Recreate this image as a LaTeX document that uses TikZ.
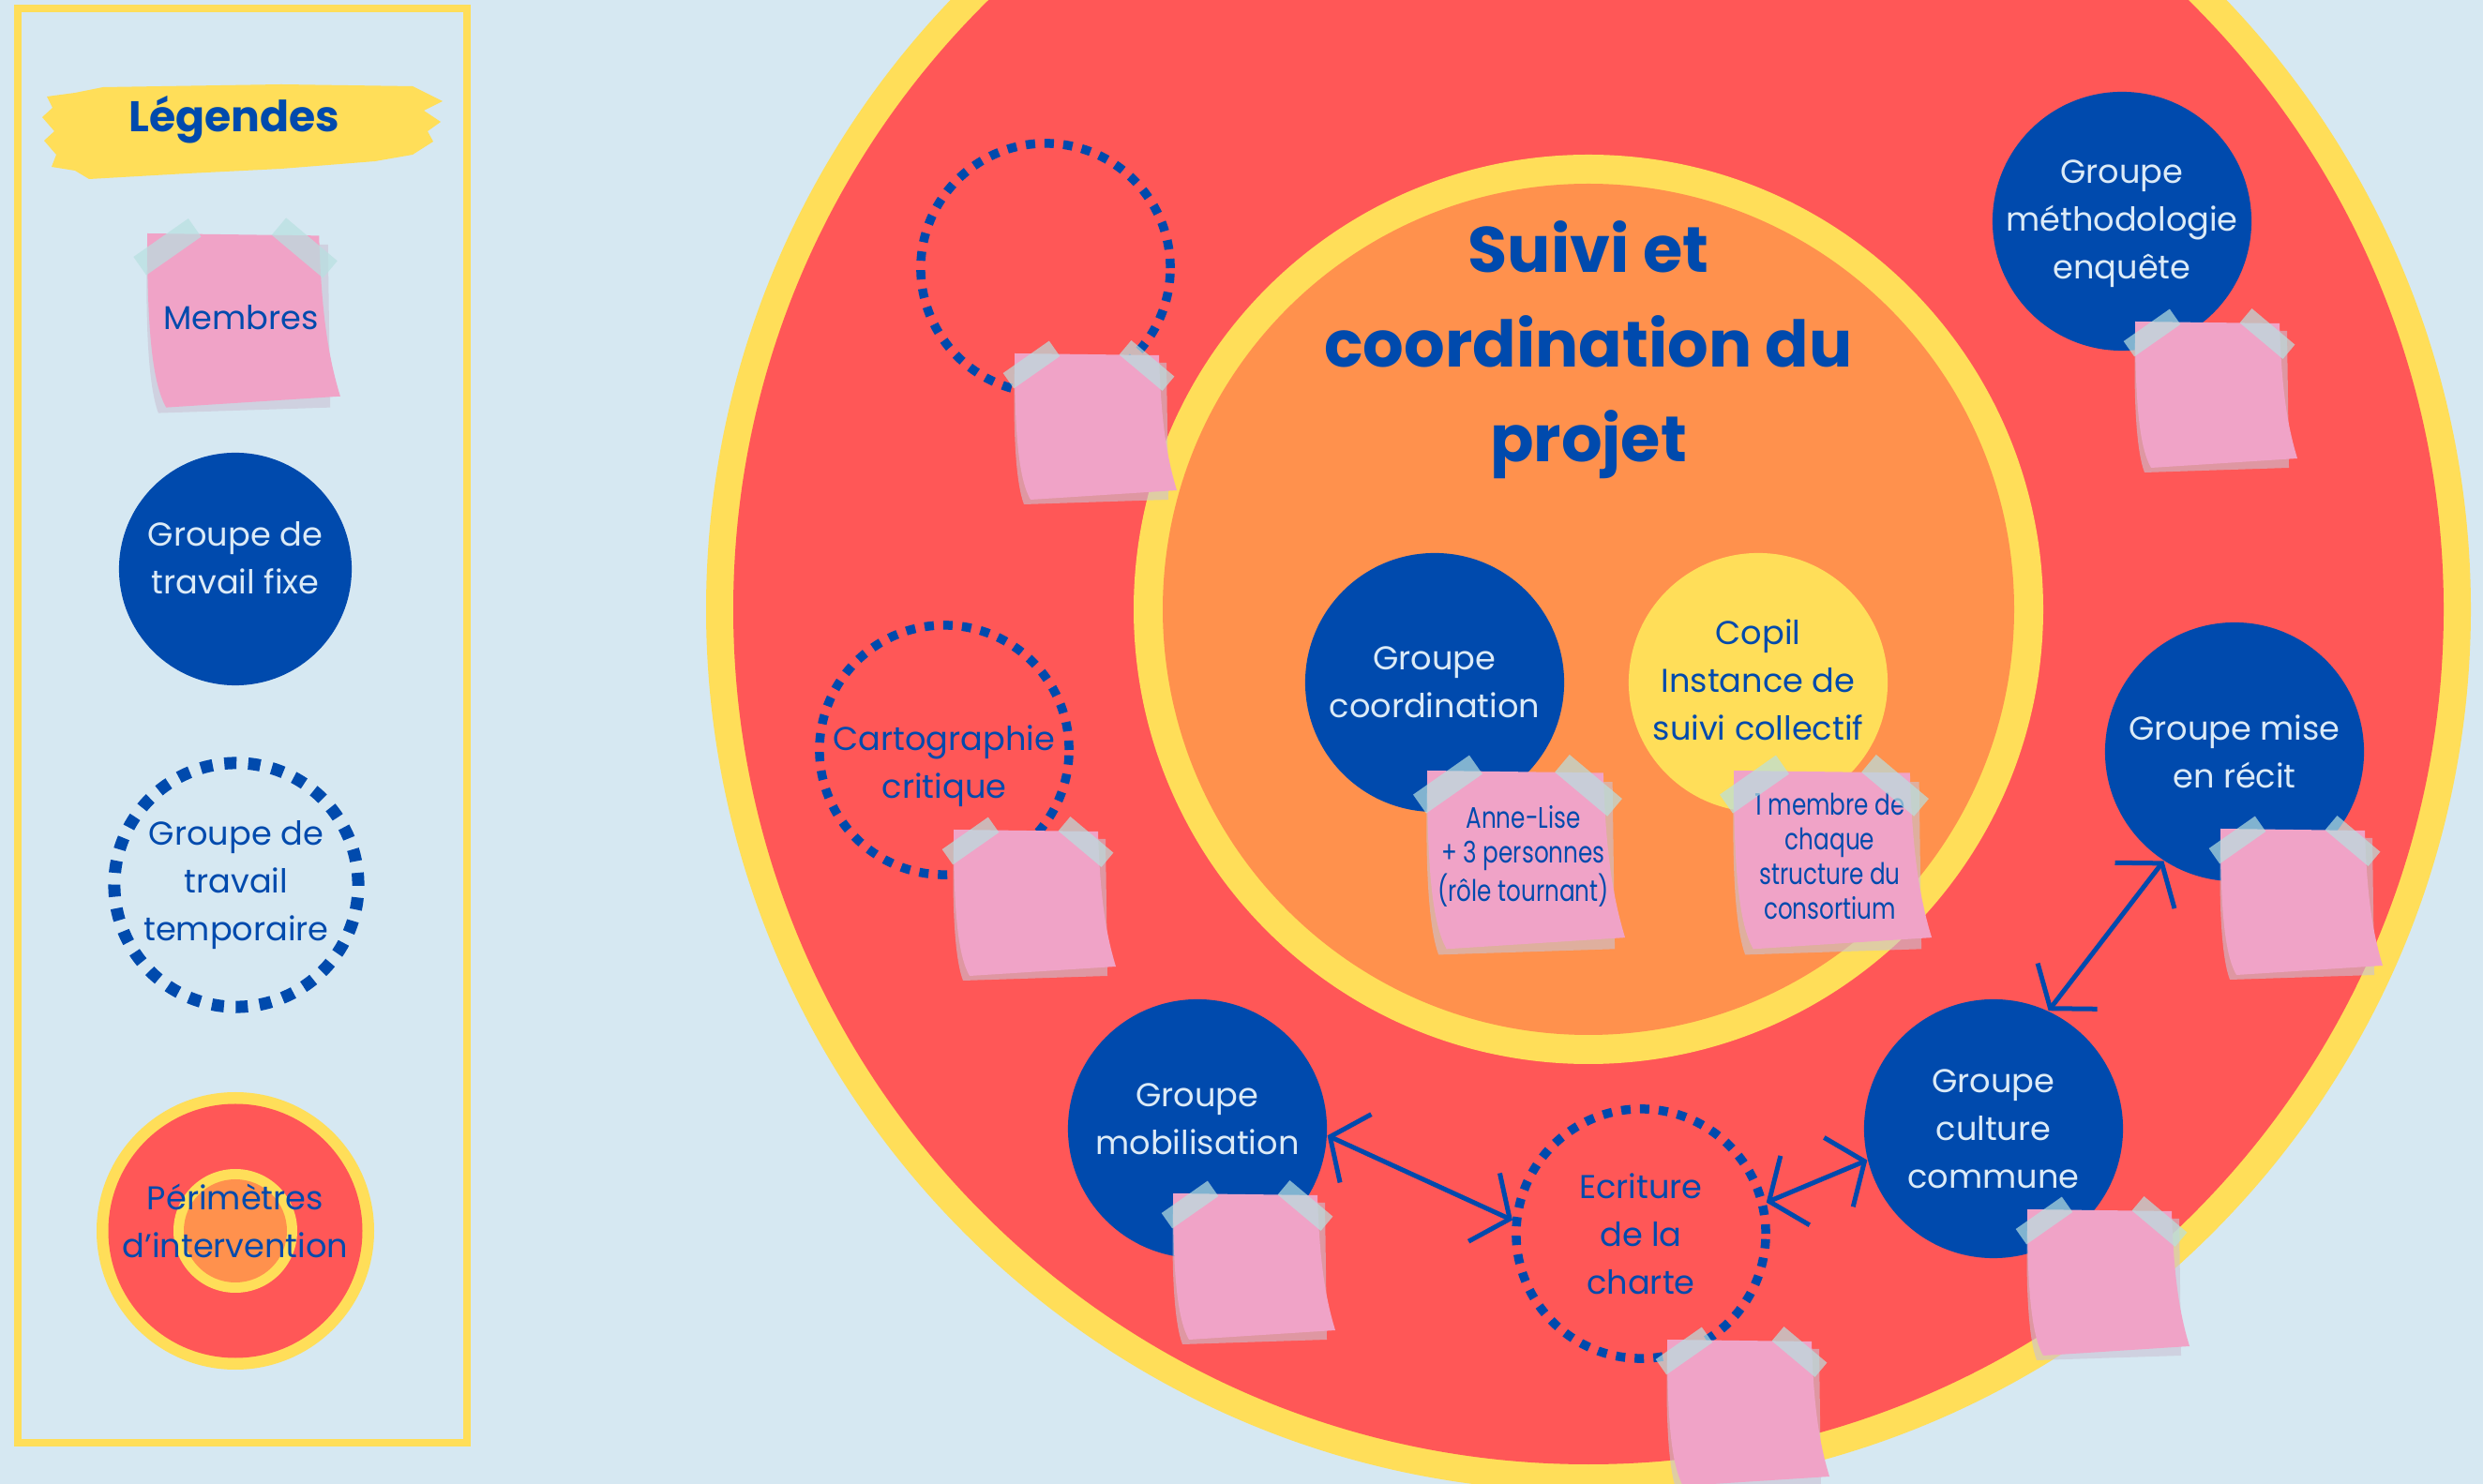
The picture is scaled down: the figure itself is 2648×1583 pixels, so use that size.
\documentclass[tikz,border=0pt]{standalone}
\usepackage{fontspec}
\setmainfont{Poppins}
\newfontfamily\narrowfont[FakeStretch=0.78]{Poppins}
\usepackage{tikz}
\usetikzlibrary{positioning, arrows.meta}

\definecolor{bgblue}{HTML}{D6E8F2}
\definecolor{sunyellow}{HTML}{FFDE59}
\definecolor{corail}{HTML}{FF5757}
\definecolor{mango}{HTML}{FF914D}
\definecolor{deepblue}{HTML}{004AAD}
\definecolor{paleblue}{HTML}{DCEBF7}
\definecolor{notepink}{HTML}{F0A3C7}
\definecolor{noteshade}{HTML}{CBC3D5}
\definecolor{tapeteal}{HTML}{B8E0E0}

% sticky note: [scale]{name}{top-left}{text}
\newcommand{\postit}[4][1]{%
  \begin{scope}[shift={#3}, scale=#1]
    \fill[noteshade, fill opacity=0.6] (0,10) .. controls (-2,90) and (2,140) .. (10,161)
      -- (164,156) -- (162,10) -- cycle;
    \fill[notepink] (0,0) -- (154,2) .. controls (156,70) and (162,110) .. (173,146)
      -- (17,156) .. controls (5,135) and (0,90) .. cycle;
    \node[notetext] (#2) at (84,75) {#4};
    \fill[tapeteal, fill opacity=0.7, rotate around={35:(18,12)}] (-12,2) rectangle (48,22);
    \fill[tapeteal, fill opacity=0.7, rotate around={-40:(141,13)}] (111,3) rectangle (171,23);
  \end{scope}}

\begin{document}
\begin{tikzpicture}[
  x=0.01cm, y=-0.01cm,
  btext/.style={align=center, text=deepblue, font=\fontsize{10pt}{14.5pt}\selectfont},
  wtext/.style={btext, text=paleblue},
  fixe/.style={circle, fill=deepblue, minimum size=2.76cm, inner sep=0pt},
  temp/.style={circle, draw=deepblue, line width=0.095cm, dash pattern=on 0.1cm off 0.1cm,
               minimum size=2.66cm, inner sep=0pt},
  copil/.style={fixe, fill=sunyellow},
  notetext/.style={align=center, text=deepblue, inner sep=0pt,
                   font=\narrowfont\fontsize{9pt}{10.5pt}\selectfont},
  titre/.style={align=center, text=deepblue,
                font=\bfseries\fontsize{19.5pt}{28.7pt}\selectfont},
  arr/.style={<->, draw=deepblue, line width=0.05cm,
              >={Straight Barb[length=0.3cm, width=0.8cm]}}
]
  \useasboundingbox (0,0) rectangle (2648,1583);
  \clip (0,0) rectangle (2648,1583);
  \fill[bgblue] (0,0) rectangle (2648,1583);

  % Legend
  \draw[sunyellow, line width=0.08cm] (19,9) rectangle (498,1539);
  \fill[sunyellow] (50,103) -- (80,99) -- (110,93) -- (300,90) -- (440,92) -- (472,108)
    -- (452,118) -- (470,130) -- (456,140) -- (462,151) -- (440,165) -- (400,172)
    -- (300,180) -- (200,185) -- (95,191) -- (80,182) -- (55,178) -- (60,165)
    -- (47,150) -- (58,140) -- (45,125) -- (56,115) -- cycle;
  \node[font=\bfseries\fontsize{13pt}{15pt}\selectfont, text=deepblue] (legende)
    at (250,128) {Légendes};
  \postit[1.19]{leg-membres}{(157,249)}{\normalfont\fontsize{10pt}{13pt}\selectfont Membres}
  \node[fixe, minimum size=2.48cm, label={[wtext, yshift=0.12cm]center:{Groupe de\\travail fixe}}]
    (leg-fixe) at (251,607) {};
  \node[temp, minimum size=2.6cm, line width=0.13cm, dash pattern=on 0.13cm off 0.125cm,
    label={[btext]center:{Groupe de\\travail\\temporaire}}] (leg-temp) at (252,944) {};
  \fill[sunyellow] (251,1313) circle (148);
  \fill[corail] (251,1313) circle (135.5);
  \fill[sunyellow] (251,1313) circle (66);
  \fill[mango] (251,1313) circle (55);
  \node[btext] (leg-perim) at (251,1302) {Périmètres\\d’intervention};

  % Perimeters
  \fill[sunyellow] (1694,650) circle (941);
  \fill[corail] (1694,650) circle (912);
  \fill[sunyellow] (1694,650) circle (485);
  \fill[mango] (1694,650) circle (454);
  \node[titre] (titre) at (1694,373) {Suivi et\\coordination du\\projet};

  % Groups
  \node[fixe, label={[wtext]center:{Groupe\\coordination}}] (coord) at (1530,728) {};
  \node[copil, label={[btext, yshift=0.03cm]center:{Copil\\Instance de\\suivi collectif}}] (copil) at (1875,728) {};
  \node[fixe, label={[wtext, yshift=-0.03cm]center:{Groupe\\méthodologie\\enquête}}] (methodo) at (2263,236) {};
  \node[fixe, label={[wtext]center:{Groupe mise\\en récit}}] (recit) at (2383,802) {};
  \node[fixe, label={[wtext]center:{Groupe\\culture\\commune}}] (culture) at (2126,1204) {};
  \node[fixe, label={[wtext, yshift=0.1cm]center:{Groupe\\mobilisation}}] (mobil) at (1277,1204) {};
  \node[temp, label={[btext]center:{Ecriture\\de la\\charte}}] (ecrit) at (1750,1316) {};
  \node[temp, label={[btext, yshift=-0.17cm]center:{Cartographie\\critique}}] (carto) at (1007,800) {};
  \node[temp] (vide) at (1115,286) {};

  % Edges
  \draw[arr] (mobil.-3) -- (ecrit.174);
  \draw[arr] (ecrit.14) -- (culture.194);
  \draw[arr] (culture.65) -- (recit.237);

  % Members
  \postit{note-vide}{(1082,377)}{}
  \postit{note-carto}{(1017,885)}{}
  \postit[1.22]{note-coord}{(1522,822)}{Anne-Lise\\+ 3 personnes\\(rôle tournant)}
  \postit[1.22]{note-copil}{(1849,822)}{1 membre de\\chaque\\structure du\\consortium}
  \postit{note-methodo}{(2277,343)}{}
  \postit{note-recit}{(2368,884)}{}
  \postit{note-culture}{(2162,1290)}{}
  \postit{note-mobil}{(1251,1273)}{}
  \postit{note-ecrit}{(1778,1429)}{}
\end{tikzpicture}
\end{document}
